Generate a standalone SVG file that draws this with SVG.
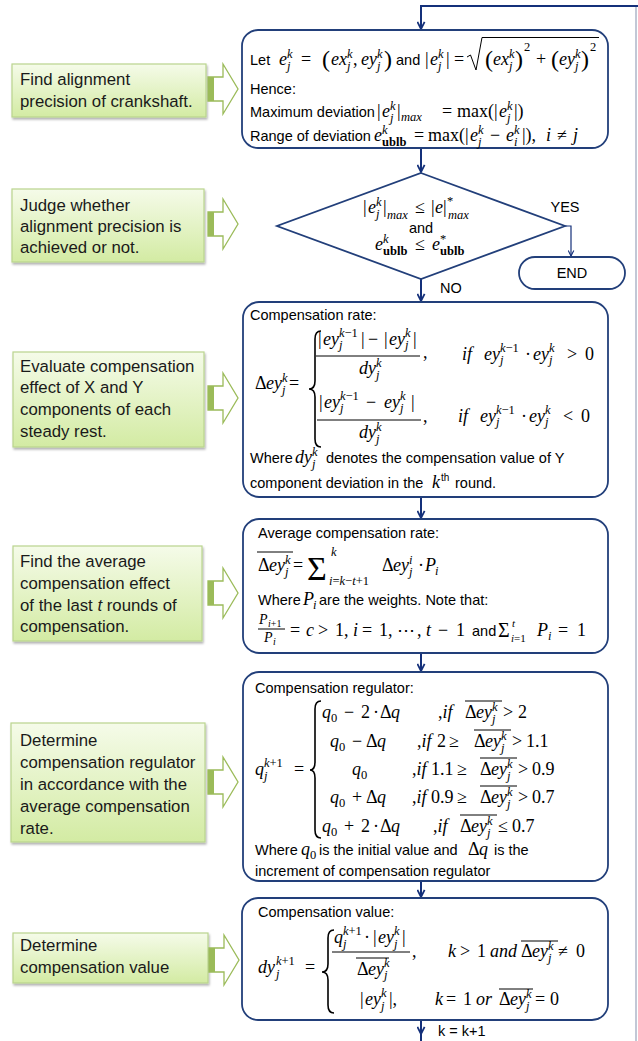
<svg xmlns="http://www.w3.org/2000/svg" width="638" height="1041" viewBox="0 0 638 1041">
<defs>
<style>
.m{font-family:"Liberation Serif","Times New Roman",serif;font-size:18px;font-style:italic;fill:#000}
.u{font-style:normal}
.s{font-size:12.5px}
.b{font-weight:bold}
.bp{font-size:24px;font-style:normal}
.t{font-family:"Liberation Sans",Arial,sans-serif;font-size:14.5px;font-style:normal;fill:#000}
.L{font-family:"Liberation Sans",Arial,sans-serif;font-size:16.8px;fill:#1a1a1a}
.box{fill:#fff;stroke:#223f7a;stroke-width:1.8}
.gb{fill:url(#gg);stroke:#b9d48e;stroke-width:1.2;filter:url(#sh)}
.ln{fill:none;stroke:#14307a;stroke-width:2}
.ol{fill:none;stroke:#000;stroke-width:1}
.br{fill:none;stroke:#000;stroke-width:1.6}
</style>
<linearGradient id="gg" x1="0" y1="0" x2="0" y2="1"><stop offset="0" stop-color="#f5fbe9"/><stop offset="1" stop-color="#d3eba3"/></linearGradient>
<filter id="sh" x="-10%" y="-10%" width="130%" height="140%"><feDropShadow dx="1" dy="2" stdDeviation="1.2" flood-color="#000" flood-opacity="0.3"/></filter>
<g id="barrow"><path d="M0,-12 H15 V-25 L30,0 L15,25 V12 H0 Z" fill="#fff" stroke="#9bbb59" stroke-width="1.3"/><rect x="0" y="-12" width="6" height="24" fill="#9bbb59"/></g>
<marker id="ah" viewBox="0 0 10 10" refX="9" refY="5" markerWidth="9" markerHeight="9" markerUnits="userSpaceOnUse" orient="auto"><path d="M1,1 L9,5 L1,9" fill="none" stroke="#14307a" stroke-width="2"/></marker>
<marker id="ah2" viewBox="0 0 10 10" refX="9" refY="5" markerWidth="7" markerHeight="7" markerUnits="userSpaceOnUse" orient="auto"><path d="M1,1 L9,5 L1,9" fill="none" stroke="#14307a" stroke-width="1.6"/></marker>
</defs>
<rect width="638" height="1041" fill="#fff"/>

<g id="connectors">
<path d="M636,1041 V6" fill="none" stroke="#aeb6c8" stroke-width="1.5"/>
<path class="ln" d="M638,6 H421 V29" marker-end="url(#ah)"/>
<path class="ln" d="M421,148 V172" marker-end="url(#ah)"/>
<path class="ln" d="M421,279 V301" marker-end="url(#ah)"/>
<path class="ln" d="M421,497 V518" marker-end="url(#ah)"/>
<path class="ln" d="M421,653 V671" marker-end="url(#ah)"/>
<path class="ln" d="M421,881 V897" marker-end="url(#ah)"/>
<path class="ln" d="M421,1020 V1034" marker-end="url(#ah)"/>
<path class="ln" d="M421,1034 V1041"/>
<path d="M565,226 H571 V256" fill="none" stroke="#14307a" stroke-width="1.2" marker-end="url(#ah2)"/>
<text class="t" x="565" y="212" text-anchor="middle">YES</text>
<text class="t" x="440" y="293">NO</text>
<text class="t" x="438" y="1036">k = k+1</text>
</g>

<g id="s1">
<rect class="gb" x="12" y="64" width="194" height="53"/>
<text class="L"><tspan x="20" y="85">Find alignment</tspan><tspan x="20" y="107">precision of crankshaft.</tspan></text>
<use href="#barrow" x="208" y="89"/>
</g>
<g id="s2">
<rect class="gb" x="12" y="189" width="192" height="73"/>
<text class="L"><tspan x="20" y="211">Judge whether</tspan><tspan x="20" y="232">alignment precision is</tspan><tspan x="20" y="253">achieved or not.</tspan></text>
<use href="#barrow" x="208" y="224"/>
</g>
<g id="s3">
<rect class="gb" x="13" y="352" width="191" height="95"/>
<text class="L"><tspan x="20" y="372">Evaluate compensation</tspan><tspan x="20" y="393">effect of X and Y</tspan><tspan x="20" y="415">components of each</tspan><tspan x="20" y="437">steady rest.</tspan></text>
<use href="#barrow" x="208" y="398"/>
</g>
<g id="s4">
<rect class="gb" x="13" y="546" width="189" height="95"/>
<text class="L"><tspan x="20" y="567">Find the average</tspan><tspan x="20" y="589">compensation effect</tspan><tspan x="20" y="611">of the last <tspan font-style="italic">t</tspan> rounds of</tspan><tspan x="20" y="632">compensation.</tspan></text>
<use href="#barrow" x="208" y="593"/>
</g>
<g id="s5">
<rect class="gb" x="11" y="723" width="194" height="119"/>
<text class="L"><tspan x="20" y="746">Determine</tspan><tspan x="20" y="768">compensation regulator</tspan><tspan x="20" y="790">in accordance with the</tspan><tspan x="20" y="812">average compensation</tspan><tspan x="20" y="834">rate.</tspan></text>
<use href="#barrow" x="208" y="782"/>
</g>
<g id="s6">
<rect class="gb" x="13" y="933" width="195" height="50"/>
<text class="L"><tspan x="20" y="951">Determine</tspan><tspan x="20" y="973">compensation value</tspan></text>
<use href="#barrow" x="209" y="960"/>
</g>

<g id="n-deviation">
<rect class="box" x="242" y="30" width="366" height="118" rx="16"/>
<text class="m">
<tspan class="t" x="250" y="65">Let</tspan>
<tspan x="279" y="65">e</tspan><tspan class="s" x="287" y="58">k</tspan><tspan class="s" x="287" y="70">j</tspan>
<tspan class="u" x="301" y="65">=</tspan>
<tspan class="bp" x="322" y="67">(</tspan>
<tspan x="331" y="65">ex</tspan><tspan class="s" x="347" y="58">k</tspan><tspan class="s" x="347" y="70">j</tspan><tspan class="u" x="353" y="65">,</tspan>
<tspan x="361" y="65">ey</tspan><tspan class="s" x="377" y="58">k</tspan><tspan class="s" x="377" y="70">j</tspan>
<tspan class="bp" x="384" y="67">)</tspan>
<tspan class="t" x="396" y="65">and</tspan>
<tspan class="u" x="425" y="65">|</tspan><tspan x="430" y="65">e</tspan><tspan class="s" x="438" y="58">k</tspan><tspan class="s" x="438" y="70">j</tspan><tspan class="u" x="446" y="65">|</tspan>
<tspan class="u" x="454" y="65">=</tspan>
<tspan class="bp" x="485" y="67">(</tspan>
<tspan x="493" y="65">ex</tspan><tspan class="s" x="509" y="58">k</tspan><tspan class="s" x="509" y="70">j</tspan>
<tspan class="bp" x="515" y="67">)</tspan>
<tspan class="s u" x="524" y="51">2</tspan>
<tspan class="u" x="536" y="65">+</tspan>
<tspan class="bp" x="551" y="67">(</tspan>
<tspan x="559" y="65">ey</tspan><tspan class="s" x="575" y="58">k</tspan><tspan class="s" x="575" y="70">j</tspan>
<tspan class="bp" x="581" y="67">)</tspan>
<tspan class="s u" x="590" y="51">2</tspan>
</text>
<path class="ol" d="M467,57 L470.5,55 L476,70 L482,37.5 H599" stroke-width="1.2"/>
<text class="t" x="250" y="94">Hence:</text>
<text class="m">
<tspan class="t" x="250" y="117">Maximum deviation</tspan>
<tspan class="u" x="377" y="117">|</tspan><tspan x="382" y="117">e</tspan><tspan class="s" x="390" y="110">k</tspan><tspan class="s" x="390" y="122">j</tspan><tspan class="u" x="397" y="117">|</tspan>
<tspan class="s" x="401" y="120.5">max</tspan>
<tspan class="u" x="442" y="117">=</tspan>
<tspan class="u" x="457" y="117">max(|</tspan>
<tspan x="499" y="117">e</tspan><tspan class="s" x="507" y="110">k</tspan><tspan class="s" x="507" y="122">j</tspan><tspan class="u" x="514" y="117">|)</tspan>
</text>
<text class="m">
<tspan class="t" x="250" y="141">Range of deviation</tspan>
<tspan x="374" y="141">e</tspan><tspan class="s" x="382" y="134">k</tspan><tspan class="s u b" x="382" y="146">ublb</tspan>
<tspan class="u" x="414" y="141">=</tspan>
<tspan class="u" x="428" y="141">max(|</tspan>
<tspan x="470" y="141">e</tspan><tspan class="s" x="478" y="134">k</tspan><tspan class="s" x="478" y="146">j</tspan>
<tspan class="u" x="490" y="141">−</tspan>
<tspan x="506" y="141">e</tspan><tspan class="s" x="514" y="134">k</tspan><tspan class="s" x="514" y="146">i</tspan>
<tspan class="u" x="522" y="141">|),</tspan>
<tspan x="546" y="141">i</tspan><tspan class="u" x="557" y="141">≠</tspan><tspan x="573" y="141">j</tspan>
</text>
</g>

<g id="n-judge">
<polygon class="box" points="421,173 565,226 421,279 277,226"/>
<text class="m">
<tspan class="u" x="363" y="213">|</tspan><tspan x="368" y="213">e</tspan><tspan class="s" x="376" y="206">k</tspan><tspan class="s" x="376" y="218">j</tspan><tspan class="u" x="383" y="213">|</tspan>
<tspan class="s" x="387" y="219">max</tspan>
<tspan class="u" x="415" y="213">≤</tspan>
<tspan class="u" x="431" y="213">|</tspan><tspan x="435" y="213">e</tspan><tspan class="u" x="443" y="213">|</tspan>
<tspan class="s u" x="447" y="205">*</tspan><tspan class="s" x="448" y="219">max</tspan>
</text>
<text class="t" x="421" y="233" text-anchor="middle">and</text>
<text class="m">
<tspan x="375" y="250">e</tspan><tspan class="s" x="383" y="243">k</tspan><tspan class="s u b" x="383" y="255">ublb</tspan>
<tspan class="u" x="415" y="250">≤</tspan>
<tspan x="432" y="250">e</tspan><tspan class="s u" x="440" y="243">*</tspan><tspan class="s u b" x="440" y="255">ublb</tspan>
</text>
</g>

<g id="n-end">
<rect class="box" x="519" y="257" width="106" height="32" rx="16"/>
<text class="t" x="572" y="278" text-anchor="middle">END</text>
</g>

<g id="n-rate">
<rect class="box" x="243" y="302" width="365" height="195" rx="16"/>
<text class="t" x="250" y="320">Compensation rate:</text>
<text class="m">
<tspan class="u" x="255" y="389">Δ</tspan><tspan x="266" y="389">ey</tspan><tspan class="s" x="282" y="382">k</tspan><tspan class="s" x="282" y="394">j</tspan><tspan class="u" x="289" y="389">=</tspan>
<tspan class="u" x="318" y="345">|</tspan><tspan x="323" y="345">ey</tspan><tspan class="s" x="339" y="337">k</tspan><tspan class="s u">−1</tspan><tspan class="s" x="339" y="349">j</tspan><tspan class="u" x="361" y="345">|</tspan>
<tspan class="u" x="368" y="345">−</tspan>
<tspan class="u" x="384" y="345">|</tspan><tspan x="389" y="345">ey</tspan><tspan class="s" x="405" y="337">k</tspan><tspan class="s" x="405" y="349">j</tspan><tspan class="u" x="413" y="345">|</tspan>
<tspan class="u" x="423" y="358">,</tspan>
<tspan x="359" y="374">dy</tspan><tspan class="s" x="376" y="367">k</tspan><tspan class="s" x="376" y="379">j</tspan>
<tspan x="462" y="360">if</tspan>
<tspan x="484" y="360">ey</tspan><tspan class="s" x="500" y="352">k</tspan><tspan class="s u">−1</tspan><tspan class="s" x="500" y="364">j</tspan>
<tspan class="u" x="525" y="360">·</tspan>
<tspan x="533" y="360">ey</tspan><tspan class="s" x="549" y="352">k</tspan><tspan class="s" x="549" y="364">j</tspan>
<tspan class="u" x="567" y="360">&gt;</tspan><tspan class="u" x="585" y="360">0</tspan>
<tspan class="u" x="319" y="408">|</tspan><tspan x="324" y="408">ey</tspan><tspan class="s" x="340" y="400">k</tspan><tspan class="s u">−1</tspan><tspan class="s" x="340" y="412">j</tspan>
<tspan class="u" x="366" y="408">−</tspan>
<tspan x="384" y="408">ey</tspan><tspan class="s" x="400" y="400">k</tspan><tspan class="s" x="400" y="412">j</tspan><tspan class="u" x="411" y="408">|</tspan>
<tspan class="u" x="423" y="422">,</tspan>
<tspan x="359" y="438">dy</tspan><tspan class="s" x="376" y="431">k</tspan><tspan class="s" x="376" y="443">j</tspan>
<tspan x="458" y="422">if</tspan>
<tspan x="480" y="422">ey</tspan><tspan class="s" x="496" y="414">k</tspan><tspan class="s u">−1</tspan><tspan class="s" x="496" y="426">j</tspan>
<tspan class="u" x="521" y="422">·</tspan>
<tspan x="529" y="422">ey</tspan><tspan class="s" x="545" y="414">k</tspan><tspan class="s" x="545" y="426">j</tspan>
<tspan class="u" x="563" y="422">&lt;</tspan><tspan class="u" x="581" y="422">0</tspan>
</text>
<path class="br" d="M321,331 Q315,331 315,339 V381 Q315,389 309,389 Q315,389 315,397 V439 Q315,447 321,447"/>
<path class="ol" d="M316,356 H420 M317,420 H421"/>
<text class="m">
<tspan class="t" x="250" y="463">Where</tspan><tspan x="295" y="463">dy</tspan><tspan class="s" x="312" y="456">k</tspan><tspan class="s" x="312" y="468">j</tspan><tspan class="t" x="326" y="463">denotes the compensation value  of Y</tspan>
<tspan class="t" x="250" y="488">component deviation in the</tspan><tspan x="432" y="488">k</tspan><tspan class="t" x="441" y="481" style="font-size:10px">th</tspan><tspan class="t" x="455" y="488">round.</tspan>
</text>
</g>

<g id="n-average">
<rect class="box" x="243" y="519" width="365" height="134" rx="16"/>
<text class="t" x="258" y="538">Average compensation rate:</text>
<path class="ol" d="M257,552 H293 M258,629 H285"/>
<text class="m">
<tspan class="u" x="258" y="571">Δ</tspan><tspan x="269" y="571">ey</tspan><tspan class="s" x="285" y="564">k</tspan><tspan class="s" x="285" y="576">j</tspan><tspan class="u" x="293" y="571">=</tspan>
<tspan class="s" x="331" y="556">k</tspan>
<tspan class="s" x="329" y="585">i</tspan><tspan class="s u">=</tspan><tspan class="s">k</tspan><tspan class="s u">−</tspan><tspan class="s">t</tspan><tspan class="s u">+1</tspan>
<tspan class="u" x="382" y="571">Δ</tspan><tspan x="393" y="571">ey</tspan><tspan class="s" x="409" y="564">i</tspan><tspan class="s" x="409" y="576">j</tspan>
<tspan class="u" x="418" y="571">·</tspan><tspan x="425" y="571">P</tspan><tspan class="s" x="435" y="575">i</tspan>
<tspan class="t" x="258" y="605">Where</tspan><tspan x="303" y="605">P</tspan><tspan class="s" x="313" y="609">i</tspan><tspan class="t" x="319" y="605">are the weights. Note that:</tspan>
<tspan class="u" x="290" y="636">=</tspan><tspan x="306" y="636">c</tspan><tspan class="u" x="318" y="636">&gt;</tspan><tspan class="u" x="335" y="636">1,</tspan>
<tspan x="353" y="636">i</tspan><tspan class="u" x="362" y="636">=</tspan><tspan class="u" x="379" y="636">1,</tspan><tspan class="u" x="397" y="636">⋯</tspan><tspan class="u" x="417" y="636">,</tspan>
<tspan x="426" y="636">t</tspan><tspan class="u" x="438" y="636">−</tspan><tspan class="u" x="456" y="636">1</tspan>
<tspan class="t" x="472" y="636">and</tspan>
<tspan class="u" x="498" y="637" style="font-size:20px">Σ</tspan>
<tspan x="512" y="627" style="font-size:11px">t</tspan>
<tspan x="511" y="642" style="font-size:11px">i</tspan><tspan class="u" style="font-size:11px">=1</tspan>
<tspan x="537" y="636">P</tspan><tspan class="s" x="548" y="640">i</tspan><tspan class="u" x="558" y="636">=</tspan><tspan class="u" x="577" y="636">1</tspan>
</text>
<text class="m u" x="307" y="580" style="font-size:34px">Σ</text>
<text class="m" style="font-size:14px"><tspan x="259" y="624">P</tspan><tspan x="268" y="627" style="font-size:10px">i</tspan><tspan class="u" style="font-size:10px">+1</tspan><tspan x="264" y="642">P</tspan><tspan x="273" y="645" style="font-size:10px">i</tspan></text>
</g>

<g id="n-regulator">
<rect class="box" x="243" y="672" width="365" height="209" rx="16"/>
<text class="t" x="255" y="693">Compensation regulator:</text>
<path class="br" d="M321,701 Q315,701 315,709 V762 Q315,770 310,770 Q315,770 315,778 V830 Q315,838 321,838"/>
<path class="ol" d="M465,701 H502 M474,730 H511 M480,758 H517 M480,786 H517 M460,815 H497"/>
<text class="m">
<tspan x="255" y="775">q</tspan><tspan class="s" x="264" y="767">k</tspan><tspan class="s u">+1</tspan><tspan class="s" x="264" y="780">j</tspan><tspan class="u" x="294" y="775">=</tspan>
<tspan x="322" y="718">q</tspan><tspan class="s u" x="331" y="722">0</tspan><tspan class="u" x="344" y="718">−</tspan><tspan class="u" x="361" y="718">2</tspan><tspan class="u" x="373" y="718">·</tspan><tspan class="u" x="380" y="718">Δ</tspan><tspan x="391" y="718">q</tspan>
<tspan class="u" x="438" y="718">,</tspan><tspan>if</tspan>
<tspan class="u" x="465" y="718">Δ</tspan><tspan x="476" y="718">ey</tspan><tspan class="s" x="492" y="711">k</tspan><tspan class="s" x="492" y="723">j</tspan><tspan class="u" x="503" y="718">&gt;</tspan><tspan class="u" x="518" y="718">2</tspan>
<tspan x="330" y="747">q</tspan><tspan class="s u" x="339" y="751">0</tspan><tspan class="u" x="352" y="747">−</tspan><tspan class="u" x="366" y="747">Δ</tspan><tspan x="377" y="747">q</tspan>
<tspan class="u" x="417" y="747">,</tspan><tspan>if</tspan><tspan class="u" x="437" y="747">2</tspan><tspan class="u" x="449" y="747">≥</tspan>
<tspan class="u" x="474" y="747">Δ</tspan><tspan x="485" y="747">ey</tspan><tspan class="s" x="501" y="740">k</tspan><tspan class="s" x="501" y="752">j</tspan><tspan class="u" x="512" y="747">&gt;</tspan><tspan class="u" x="526" y="747">1.1</tspan>
<tspan x="352" y="775">q</tspan><tspan class="s u" x="361" y="779">0</tspan>
<tspan class="u" x="412" y="775">,</tspan><tspan>if</tspan><tspan class="u" x="431" y="775">1.1</tspan><tspan class="u" x="457" y="775">≥</tspan>
<tspan class="u" x="480" y="775">Δ</tspan><tspan x="491" y="775">ey</tspan><tspan class="s" x="507" y="768">k</tspan><tspan class="s" x="507" y="780">j</tspan><tspan class="u" x="518" y="775">&gt;</tspan><tspan class="u" x="532" y="775">0.9</tspan>
<tspan x="330" y="803">q</tspan><tspan class="s u" x="339" y="807">0</tspan><tspan class="u" x="352" y="803">+</tspan><tspan class="u" x="366" y="803">Δ</tspan><tspan x="377" y="803">q</tspan>
<tspan class="u" x="412" y="803">,</tspan><tspan>if</tspan><tspan class="u" x="431" y="803">0.9</tspan><tspan class="u" x="457" y="803">≥</tspan>
<tspan class="u" x="480" y="803">Δ</tspan><tspan x="491" y="803">ey</tspan><tspan class="s" x="507" y="796">k</tspan><tspan class="s" x="507" y="808">j</tspan><tspan class="u" x="518" y="803">&gt;</tspan><tspan class="u" x="532" y="803">0.7</tspan>
<tspan x="322" y="832">q</tspan><tspan class="s u" x="331" y="836">0</tspan><tspan class="u" x="344" y="832">+</tspan><tspan class="u" x="361" y="832">2</tspan><tspan class="u" x="373" y="832">·</tspan><tspan class="u" x="380" y="832">Δ</tspan><tspan x="391" y="832">q</tspan>
<tspan class="u" x="433" y="832">,</tspan><tspan>if</tspan>
<tspan class="u" x="460" y="832">Δ</tspan><tspan x="471" y="832">ey</tspan><tspan class="s" x="487" y="825">k</tspan><tspan class="s" x="487" y="837">j</tspan><tspan class="u" x="498" y="832">≤</tspan><tspan class="u" x="512" y="832">0.7</tspan>
<tspan class="t" x="255" y="855">Where</tspan><tspan x="301" y="855">q</tspan><tspan class="s u" x="310" y="859">0</tspan><tspan class="t" x="319" y="855">is the initial value and</tspan><tspan class="u" x="468" y="855">Δ</tspan><tspan x="479" y="855">q</tspan><tspan class="t" x="494" y="855">is the</tspan>
<tspan class="t" x="255" y="876">increment of compensation regulator</tspan>
</text>
</g>

<g id="n-value">
<rect class="box" x="242" y="898" width="366" height="122" rx="16"/>
<text class="t" x="258" y="917">Compensation value:</text>
<path class="br" d="M334,930 Q328,930 328,938 V964 Q328,972 322,972 Q328,972 328,980 V1005 Q328,1013 334,1013"/>
<path class="ol" d="M332,952 H410 M356,958 H389 M521,941 H558 M499,989 H533"/>
<text class="m">
<tspan x="258" y="973">dy</tspan><tspan class="s" x="276" y="965">k</tspan><tspan class="s u">+1</tspan><tspan class="s" x="276" y="978">j</tspan><tspan class="u" x="305" y="973">=</tspan>
<tspan x="334" y="943">q</tspan><tspan class="s" x="343" y="935">k</tspan><tspan class="s u">+1</tspan><tspan class="s" x="343" y="948">j</tspan><tspan class="u" x="364" y="943">·</tspan>
<tspan class="u" x="373" y="943">|</tspan><tspan x="378" y="943">ey</tspan><tspan class="s" x="394" y="935">k</tspan><tspan class="s" x="394" y="948">j</tspan><tspan class="u" x="402" y="943">|</tspan>
<tspan class="u" x="357" y="975">Δ</tspan><tspan x="368" y="975">ey</tspan><tspan class="s" x="384" y="967">k</tspan><tspan class="s" x="384" y="979">j</tspan>
<tspan class="u" x="412" y="957">,</tspan>
<tspan x="448" y="957">k</tspan><tspan class="u" x="460" y="957">&gt;</tspan><tspan class="u" x="477" y="957">1</tspan><tspan x="490" y="957">and</tspan>
<tspan class="u" x="521" y="957">Δ</tspan><tspan x="532" y="957">ey</tspan><tspan class="s" x="548" y="950">k</tspan><tspan class="s" x="548" y="962">j</tspan><tspan class="u" x="558" y="957">≠</tspan><tspan class="u" x="576" y="957">0</tspan>
<tspan class="u" x="360" y="1005">|</tspan><tspan x="365" y="1005">ey</tspan><tspan class="s" x="381" y="997">k</tspan><tspan class="s" x="381" y="1010">j</tspan><tspan class="u" x="389" y="1005">|,</tspan>
<tspan x="435" y="1005">k</tspan><tspan class="u" x="446" y="1005">=</tspan><tspan class="u" x="463" y="1005">1</tspan><tspan x="476" y="1005">or</tspan>
<tspan class="u" x="499" y="1005">Δ</tspan><tspan x="510" y="1005">ey</tspan><tspan class="s" x="526" y="998">k</tspan><tspan class="s" x="526" y="1010">j</tspan><tspan class="u" x="535" y="1005">=</tspan><tspan class="u" x="550" y="1005">0</tspan>
</text>
</g>
</svg>
